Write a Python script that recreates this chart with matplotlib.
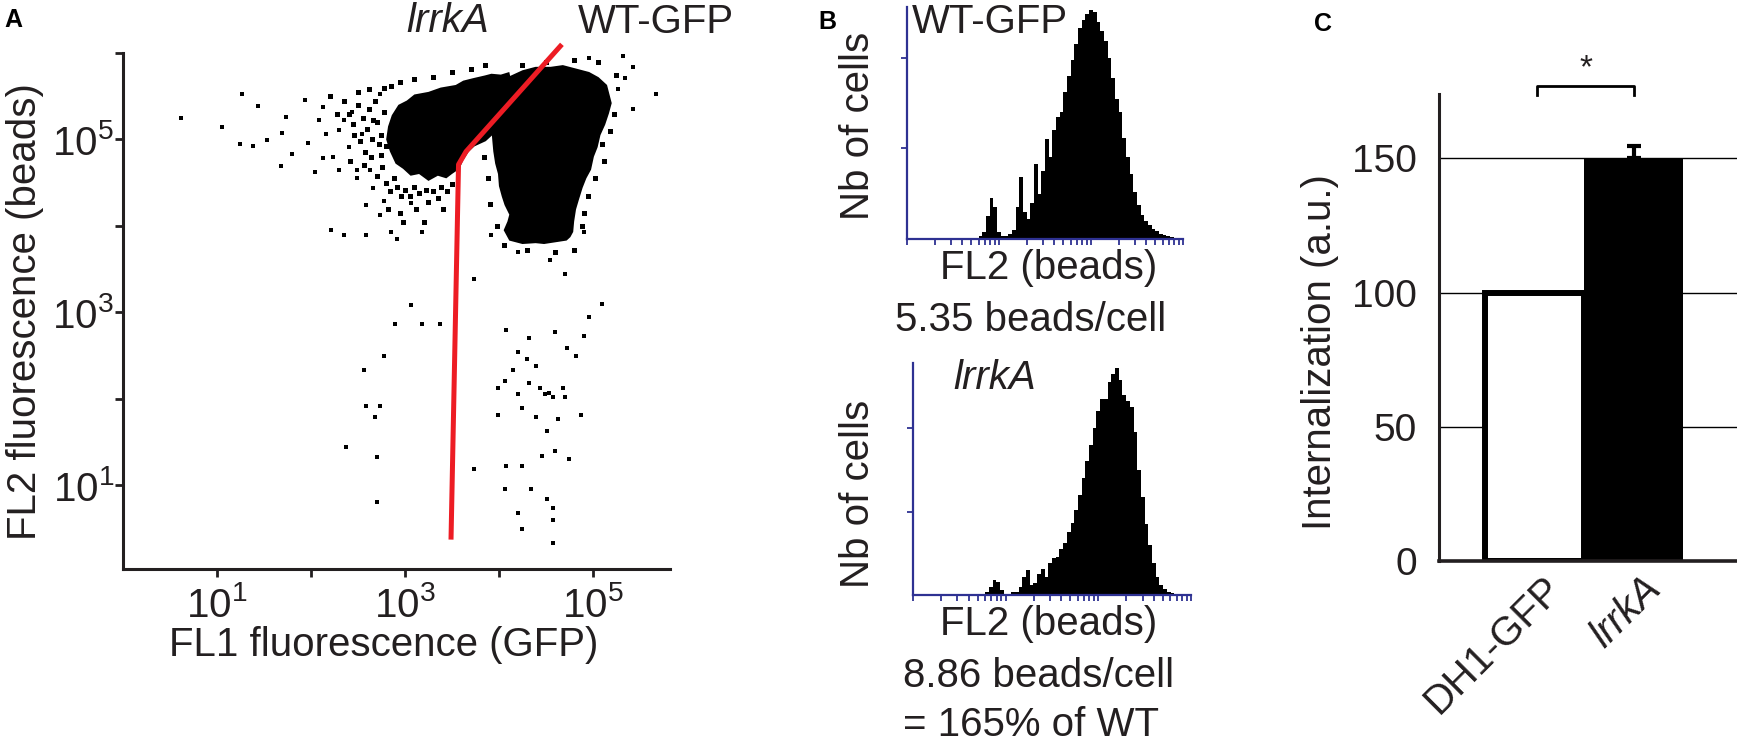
import numpy as np
import matplotlib
matplotlib.use('Agg')
import matplotlib.pyplot as plt
from matplotlib.ticker import LogLocator, NullLocator, NullFormatter

plt.rcParams['font.family'] = ['Liberation Sans', 'DejaVu Sans']
plt.rcParams['mathtext.fontset'] = 'custom'
plt.rcParams['mathtext.rm'] = 'Liberation Sans'
plt.rcParams['mathtext.it'] = 'Liberation Sans:italic'

W, H = 1737, 753
TXT = '#231f20'
NAVY = '#2e3192'
RED = '#ed1c24'
FS = 29

# ---------------- data ----------------
# panel A, dense populations as outlines (log10 FL1, log10 FL2)
lrrk_core_x = [2.86, 2.93, 3.02, 3.10, 3.25, 3.38, 3.54, 3.62, 3.73, 3.85, 3.92, 4.02,
               4.11, 4.15, 4.10, 4.04, 3.96, 3.86, 3.74, 3.68, 3.62, 3.58, 3.50, 3.44,
               3.35, 3.25, 3.15, 3.06, 2.98, 2.90, 2.84, 2.80, 2.82]
lrrk_core_y = [5.28, 5.40, 5.45, 5.52, 5.55, 5.60, 5.63, 5.68, 5.71, 5.74, 5.76, 5.75,
               5.78, 5.58, 5.40, 5.20, 5.08, 4.98, 4.92, 4.86, 4.76, 4.66, 4.60, 4.55,
               4.58, 4.52, 4.60, 4.58, 4.66, 4.72, 4.86, 5.00, 5.15]
wt_core_x = [3.92, 3.96, 4.05, 4.11, 4.25, 4.39, 4.55, 4.68, 4.82, 4.96, 5.06, 5.15,
             5.20, 5.17, 5.13, 5.08, 5.05, 5.01, 4.98, 4.93, 4.89, 4.85, 4.82, 4.80,
             4.79, 4.76, 4.72, 4.60, 4.48, 4.39, 4.25, 4.11, 4.05, 4.09, 4.11, 4.06,
             4.03, 4.00, 3.99, 3.96, 3.94, 3.93, 3.92]
wt_core_y = [5.32, 5.58, 5.66, 5.73, 5.80, 5.84, 5.84, 5.86, 5.82, 5.78, 5.72, 5.63,
             5.42, 5.30, 5.17, 5.05, 4.91, 4.80, 4.65, 4.55, 4.44, 4.30, 4.19, 4.05,
             3.93, 3.87, 3.83, 3.81, 3.79, 3.80, 3.79, 3.83, 3.95, 4.05, 4.13, 4.24,
             4.34, 4.46, 4.60, 4.72, 4.86, 4.98, 5.11]
# isolated events (log10 FL1, log10 FL2)
sparse_events = [
    (0.62, 5.25), (1.05, 5.14), (1.27, 5.52), (1.44, 5.39), (1.24, 4.95), (1.38, 4.92),
    (1.53, 4.99), (1.69, 5.07), (1.73, 5.26), (1.80, 4.83), (1.68, 4.69), (1.94, 5.46),
    (1.97, 4.96), (2.04, 4.62), (2.13, 5.37), (2.16, 5.06), (2.21, 3.95), (2.35, 3.90),
    (2.35, 5.22), (2.44, 5.32), (2.54, 5.06), (2.59, 3.90), (2.49, 4.65), (2.66, 4.44),
    (2.73, 5.53), (2.78, 4.29), (2.85, 3.93), (2.92, 3.85), (3.06, 4.26), (3.18, 3.93),
    (2.30, 4.65), (2.40, 4.91), (2.23, 4.80), (2.13, 4.78), (2.09, 5.22), (2.30, 5.11),
    (2.49, 4.55), (2.63, 4.65), (2.59, 4.24), (2.73, 4.13),
    (5.43, 5.84), (5.67, 5.52), (5.32, 5.96), (4.96, 5.94), (5.34, 5.71), (5.43, 5.35),
    (5.27, 5.58),
    (4.20, 3.70), (4.54, 3.60), (4.70, 3.44), (3.73, 3.39), (4.91, 3.93), (3.92, 3.90),
    (3.06, 3.08), (2.89, 2.87), (3.18, 2.87), (3.37, 2.86), (5.10, 3.10), (4.96, 2.95),
    (2.78, 2.49), (2.56, 2.33), (4.08, 2.80), (4.32, 2.70), (4.60, 2.77), (4.91, 2.73),
    (4.72, 2.59), (4.20, 2.54), (4.30, 2.46), (4.39, 2.38), (4.15, 2.33), (4.06, 2.20),
    (4.32, 2.18), (4.44, 2.12), (4.53, 2.07), (4.68, 2.12), (4.58, 2.02), (3.99, 2.12),
    (4.20, 2.05), (4.49, 2.05), (4.70, 2.02), (4.82, 2.49), (4.25, 1.89), (3.99, 1.81),
    (4.63, 1.76), (4.87, 1.81), (4.39, 1.79), (4.51, 1.63), (2.59, 1.92), (2.73, 1.92),
    (2.68, 1.79), (2.37, 1.44), (2.70, 1.33), (3.73, 1.19), (4.08, 1.22), (4.25, 1.22),
    (4.46, 1.34), (4.60, 1.39), (4.75, 1.30), (4.06, 0.96), (4.34, 0.96), (4.51, 0.84),
    (4.58, 0.73), (4.20, 0.68), (4.25, 0.49), (4.58, 0.60), (4.57, 0.33), (2.70, 0.81),
]
# speckled fringe around the two populations (log10 FL1, log10 FL2)
fringe_events = [
    (2.40, 5.30), (2.45, 5.18), (2.50, 5.40), (2.55, 5.25), (2.60, 5.12), (2.62, 5.35),
    (2.65, 5.00), (2.68, 5.45), (2.70, 5.20), (2.72, 4.95), (2.75, 5.05), (2.58, 4.85),
    (2.52, 4.98), (2.46, 5.05), (2.42, 4.75), (2.56, 4.70), (2.64, 4.80), (2.70, 4.58),
    (2.76, 4.68), (2.80, 4.50), (2.84, 4.40), (2.88, 4.55), (2.92, 4.45), (2.96, 4.35),
    (3.00, 4.42), (3.05, 4.34), (3.10, 4.45), (3.15, 4.38), (3.22, 4.42), (3.30, 4.40),
    (3.38, 4.45), (3.45, 4.40), (3.50, 4.48), (2.82, 4.20), (2.95, 4.15), (3.12, 4.20),
    (3.25, 4.28), (3.35, 4.32), (2.98, 4.05), (3.20, 4.05), (3.40, 4.20), (2.35, 5.45),
    (2.28, 5.30), (2.20, 5.50), (2.85, 5.62), (2.95, 5.66), (3.10, 5.70), (3.30, 5.72),
    (3.50, 5.78), (3.70, 5.82), (3.85, 5.86), (2.50, 5.55), (2.62, 5.58), (2.78, 5.60),
    (2.78, 5.32), (2.74, 4.82), (2.80, 4.92), (2.66, 5.22),
    (5.22, 5.30), (5.18, 5.10), (5.10, 4.95), (5.12, 4.75), (5.02, 4.55), (4.95, 4.35),
    (4.90, 4.15), (4.88, 4.00), (4.80, 3.72), (4.60, 3.70), (4.30, 3.72), (4.05, 3.78),
    (3.98, 4.00), (3.90, 4.25), (3.88, 4.55), (3.84, 4.80), (5.25, 5.75), (5.05, 5.90),
    (4.80, 5.92), (4.50, 5.90), (4.25, 5.86),
]
gate_x = [3.49, 3.57, 3.65, 4.67]
gate_y = [0.37, 4.71, 4.86, 6.10]

# panel B, histograms on log10 FL2 bins
hist_start = 0.78
hist_bin = 0.04
wt_counts = [3, 8, 25, 45, 35, 8, 3, 3, 5, 10, 35, 68, 30, 22, 40, 83, 50, 75, 110, 90,
             120, 135, 140, 162, 180, 198, 215, 233, 242, 248, 253, 250, 240, 230, 218,
             200, 178, 155, 140, 112, 90, 72, 52, 38, 27, 20, 15, 11, 9, 6, 4, 3, 2, 1]
lrrk_counts = [3, 10, 18, 16, 6, 1, 0, 3, 4, 10, 22, 30, 12, 14, 25, 31, 22, 38, 44, 46,
               55, 62, 75, 86, 102, 120, 140, 160, 180, 200, 220, 235, 235, 255, 265,
               272, 258, 240, 232, 225, 195, 150, 118, 85, 60, 38, 22, 12, 7, 4, 2, 1]

# panel C
strains = ['DH1-GFP', 'lrrkA']
internalization = [100, 150]
intern_err = [0, 4.5]


def box(x0, y0, x1, y1):
    return [x0 / W, 1 - y1 / H, (x1 - x0) / W, (y1 - y0) / H]


fig = plt.figure(figsize=(W / 100, H / 100), dpi=100)


def ftext(x, y, s, **kw):
    kw.setdefault('fontsize', FS)
    kw.setdefault('color', TXT)
    fig.text(x / W, 1 - y / H, s, **kw)


# ---------------- panel A ----------------
axA = fig.add_axes(box(123, 53, 670, 569))
axA.set_xscale('log')
axA.set_yscale('log')
axA.fill(10 ** np.array(lrrk_core_x), 10 ** np.array(lrrk_core_y), color='black', lw=0)
axA.fill(10 ** np.array(wt_core_x), 10 ** np.array(wt_core_y), color='black', lw=0)
ev = np.array(sparse_events)
axA.plot(10 ** ev[:, 0], 10 ** ev[:, 1], 's', ms=3, mew=0, color='black')
fr = np.array(fringe_events)
axA.plot(10 ** fr[:, 0], 10 ** fr[:, 1], 's', ms=3.6, mew=0, color='black')
axA.plot(10 ** np.array(gate_x), 10 ** np.array(gate_y), color=RED, lw=3.6,
         clip_on=False, solid_capstyle='butt', zorder=5)
axA.set_xlim(1, 10 ** 5.82)
axA.set_ylim(10 ** 0.03, 1e6)
for s in ['top', 'right']:
    axA.spines[s].set_visible(False)
for s in ['left', 'bottom']:
    axA.spines[s].set_linewidth(2.2)
    axA.spines[s].set_color(TXT)
axA.set_xticks([1e1, 1e2, 1e3, 1e4, 1e5])
axA.set_xticklabels(['$10^{1}$', '', '$10^{3}$', '', '$10^{5}$'])
axA.set_yticks([1e1, 1e2, 1e3, 1e4, 1e5, 1e6])
axA.set_yticklabels(['$10^{1}$', '', '$10^{3}$', '', '$10^{5}$', ''])
axA.xaxis.set_minor_locator(NullLocator())
axA.yaxis.set_minor_locator(NullLocator())
axA.tick_params(axis='both', length=6, width=2, color=TXT, labelcolor=TXT, labelsize=FS)
axA.tick_params(axis='x', pad=6)
axA.tick_params(axis='y', pad=0.5)

ftext(4, 8, 'A', fontsize=18, fontweight='bold', ha='left', va='top', color='black')
ftext(406, 32, 'lrrkA', fontstyle='italic', ha='left', va='baseline')
ftext(578, 33, 'WT-GFP', ha='left', va='baseline')
ftext(25, 312, 'FL2 fluorescence (beads)', rotation=90, ha='center', va='center')
ftext(384, 656, 'FL1 fluorescence (GFP)', ha='center', va='baseline')


# ---------------- panel B ----------------
def hist_panel(rect, counts, ymax):
    ax = fig.add_axes(rect)
    edges = 10 ** (hist_start + hist_bin * np.arange(len(counts) + 1))
    ax.stairs(counts, edges, fill=True, color='black', lw=0)
    ax.set_xscale('log')
    ax.set_xlim(1, 1000)
    ax.set_ylim(0, ymax)
    for s in ['top', 'right']:
        ax.spines[s].set_visible(False)
    for s in ['left', 'bottom']:
        ax.spines[s].set_linewidth(1.6)
        ax.spines[s].set_color(NAVY)
        ax.spines[s].set_zorder(5)
    ax.xaxis.set_major_locator(LogLocator(base=10, subs=np.arange(1, 10), numticks=60))
    ax.xaxis.set_minor_locator(NullLocator())
    ax.xaxis.set_major_formatter(NullFormatter())
    ax.set_yticks([100, 200])
    ax.set_yticklabels([])
    ax.tick_params(axis='both', direction='out', length=4.5, width=1.3, color=NAVY,
                   labelleft=False, labelbottom=False)
    return ax


hist_panel(box(907, 7, 1183, 239), wt_counts, 256)
hist_panel(box(913, 363, 1191, 595), lrrk_counts, 278)

ftext(818, 10, 'B', fontsize=18, fontweight='bold', ha='left', va='top', color='black')
ftext(858, 126, 'Nb of cells', rotation=90, ha='center', va='center')
ftext(912, 33, 'WT-GFP', ha='left', va='baseline')
ftext(1049, 279, 'FL2 (beads)', ha='center', va='baseline')
ftext(895, 331, '5.35 beads/cell', ha='left', va='baseline')
ftext(953, 389, 'lrrkA', fontstyle='italic', ha='left', va='baseline')
ftext(858, 494, 'Nb of cells', rotation=90, ha='center', va='center')
ftext(1049, 635, 'FL2 (beads)', ha='center', va='baseline')
ftext(903, 687, '8.86 beads/cell', ha='left', va='baseline')
ftext(903, 736, '= 165% of WT', ha='left', va='baseline')

# ---------------- panel C ----------------
axC = fig.add_axes(box(1439, 94, 1737, 561))
xpos = np.arange(len(strains))
axC.set_axisbelow(True)
axC.yaxis.grid(True, color='black', lw=1.0)
axC.bar(xpos, internalization, width=1.0, color=['white', 'black'],
        edgecolor='black', linewidth=[4.3, 0], zorder=2)
axC.errorbar(xpos[1], internalization[1], yerr=[[0], [intern_err[1]]], fmt='none',
             ecolor='black', elinewidth=3, capsize=5, capthick=3, zorder=3)
axC.set_xlim(-0.96, 2.04)
axC.set_ylim(0, 174)
axC.set_yticks([0, 50, 100, 150])
axC.set_xticks([])
axC.tick_params(axis='y', length=0, pad=16, labelsize=28, labelcolor=TXT)
for s in ['top', 'right']:
    axC.spines[s].set_visible(False)
axC.spines['left'].set_linewidth(2.2)
axC.spines['bottom'].set_linewidth(2.6)
axC.spines['left'].set_color(TXT)
axC.spines['bottom'].set_color(TXT)
for i, name in enumerate(strains):
    axC.text(xpos[i] + 0.08, -3, name, rotation=45, ha='right', va='top',
             rotation_mode='anchor', fontsize=FS, color=TXT, clip_on=False,
             fontstyle='italic' if name == 'lrrkA' else 'normal')
# significance bracket
axC.plot([0.03, 0.03, 1.0, 1.0], [173.5, 177, 177, 173.5], color='black', lw=2,
         clip_on=False)
axC.text(0.52, 177.5, '*', ha='center', va='bottom', fontsize=24, color=TXT)

ftext(1314, 12, 'C', fontsize=18, fontweight='bold', ha='left', va='top', color='black')
ftext(1320, 352, 'Internalization (a.u.)', rotation=90, ha='center', va='center')

fig.savefig('out.png', dpi=100, facecolor='white')
